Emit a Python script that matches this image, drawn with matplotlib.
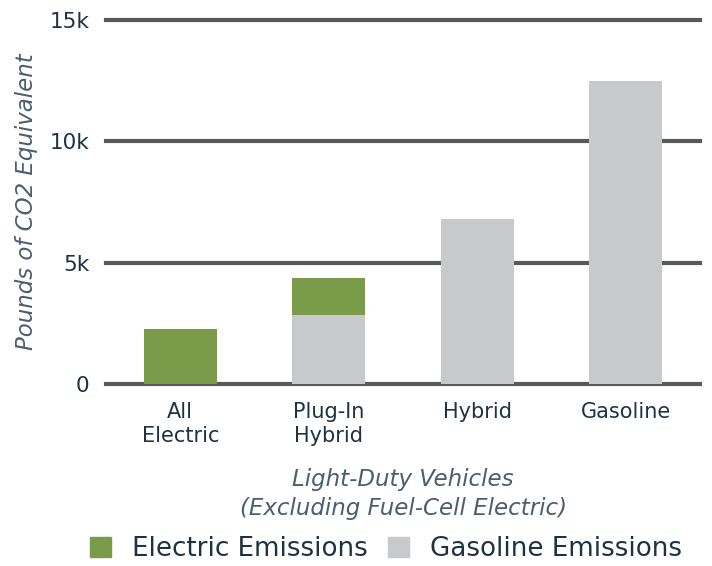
import matplotlib.pyplot as plt
from matplotlib.patches import Patch

categories = ["All\nElectric", "Plug-In\nHybrid", "Hybrid", "Gasoline"]
electric = [2250, 1500, 0, 0]
gasoline = [0, 2850, 6800, 12500]
yticks = [0, 5000, 10000, 15000]
ytick_labels = ["0", "5k", "10k", "15k"]

green = "#7a9c4a"
grey = "#c8c9cb"
text_dark = "#1d3344"
text_light = "#4b5e6e"
grid_color = "#58595b"

plt.rcParams["font.family"] = ["DejaVu Sans"]

fig = plt.figure(figsize=(7.12, 5.66), dpi=100)
ax = fig.add_axes([106 / 712, 1 - 384 / 566, 594 / 712, 364 / 566])

x = range(len(categories))
ax.bar(x, gasoline, width=0.49, color=grey, zorder=2)
ax.bar(x, electric, width=0.49, bottom=gasoline, color=green, zorder=2)

for t in yticks:
    ax.axhline(t, color=grid_color, lw=3, zorder=1, clip_on=False)

ax.set_xlim(-0.5, 3.5)
ax.set_ylim(0, 15000)
ax.set_yticks(yticks)
ax.set_yticklabels(ytick_labels, fontsize=15.5, color=text_dark)
ax.set_xticks(list(x))
ax.set_xticklabels(categories, fontsize=15, color=text_dark, linespacing=1.25)
ax.tick_params(length=0, axis="y", pad=12)
ax.tick_params(length=0, axis="x", pad=13)
for s in ax.spines.values():
    s.set_visible(False)

ax.set_ylabel("Pounds of CO2 Equivalent", fontsize=16.5, style="italic",
              color=text_light, labelpad=8)
ax.set_xlabel("Light-Duty Vehicles\n(Excluding Fuel-Cell Electric)", fontsize=16.5,
              style="italic", color=text_light, labelpad=16, linespacing=1.3)

handles = [Patch(color=green, label="Electric Emissions"),
           Patch(color=grey, label="Gasoline Emissions")]
fig.legend(handles=handles, loc="lower center", bbox_to_anchor=(0.542, -0.035), ncol=2,
           frameon=False, fontsize=18.8, handlelength=0.8, handleheight=0.8,
           columnspacing=0.8, handletextpad=0.8, labelcolor=text_dark)

fig.savefig("out.png", dpi=100)
